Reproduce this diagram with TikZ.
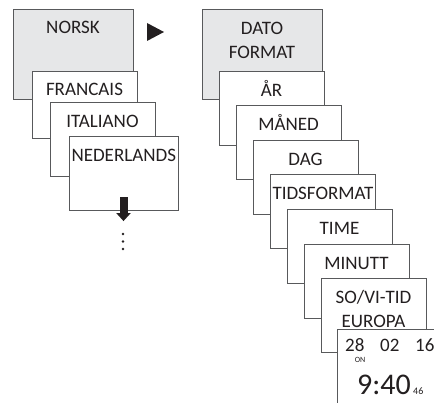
\documentclass[tikz,border=0pt]{standalone}
\usepackage{fontspec}
\setmainfont{Carlito}
\usepackage{tikz}
\usetikzlibrary{arrows.meta}
\definecolor{panel}{HTML}{E6E7E8}
\definecolor{ink}{HTML}{231F20}
\definecolor{frame}{HTML}{58595B}
\tikzstyle{menu} = [rectangle,
minimum width=105pt,
text width=100pt,
inner xsep=2.5pt,
inner ysep=3pt,
text height=22pt,
text depth=46pt,
align=center,
font=\fontsize{19pt}{24pt}\selectfont,
text=ink,
draw=frame,
line width=0.8pt,
fill=white]
\tikzstyle{title} = [menu,
text depth=62pt,
text width=115pt,
fill=panel]
\tikzstyle{digits} = [inner sep=0pt,
anchor=base west,
text=ink,
font=\fontsize{19pt}{19pt}\selectfont]
\tikzstyle{down} = [draw=ink, line width=8pt, -{Triangle[length=8pt, width=14pt]}]

\begin{document}
\begin{tikzpicture}[x=1pt, y=-1pt, node distance=34.6pt]
    \useasboundingbox (0,0) rectangle (434,403);
    \clip (0,0) rectangle (434,403);

    % language menu
    \node (norsk) [title] at (73,54) {NORSK};
    \node (francais) [menu, below of=norsk, xshift=11.5pt, yshift=-15.9pt, text depth=39pt] {FRANCAIS};
    \node (italiano) [menu, below of=francais, xshift=18pt] {ITALIANO};
    \node (nederlands) [menu, below of=italiano, xshift=21pt, text width=104pt] {NEDERLANDS};
    \coordinate (more) at ([yshift=-10pt]nederlands.south);
    \draw [down] ([yshift=14pt]nederlands.south) -- (more);
    \foreach \y in {234,241.5,249}
        \fill [ink] (123,\y) circle (1.3pt);

    \fill [ink] (147,23) -- (164,32) -- (147,41) -- cycle;

    % date / time menu
    \node (dato) [title] at (262,54.5) {DATO\\FORMAT};
    \node (aar) [menu, below of=dato, xshift=9.5pt, yshift=-19pt] {ÅR};
    \node (maaned) [menu, below of=aar, xshift=17pt] {MÅNED};
    \node (dag) [menu, below of=maaned, xshift=17pt] {DAG};
    \node (tidsformat) [menu, below of=dag, xshift=17pt] {TIDSFORMAT};
    \node (time) [menu, below of=tidsformat, xshift=17pt] {TIME};
    \node (minutt) [menu, below of=time, xshift=17pt] {MINUTT};
    \node (sovi) [menu, below of=minutt, xshift=17pt] {SO/VI-TID\\EUROPA};
    \node (clock) [menu, below of=sovi, xshift=16.5pt, yshift=-18.7pt, text depth=52pt] {};

    \node (day) [digits] at (345,352) {28};
    \node (month) [digits] at (380,352) {02};
    \node (year) [digits] at (415,352) {16};
    \node (weekday) [digits, anchor=base, font=\fontsize{8pt}{8pt}\selectfont] at (360,363) {ON};
    \node (hhmm) [digits, anchor=base east, font=\fontsize{30pt}{30pt}\selectfont] at (411,395) {9:40};
    \node (secs) [digits, font=\fontsize{10pt}{10pt}\selectfont] at (413,395) {46};

\end{tikzpicture}
\end{document}
